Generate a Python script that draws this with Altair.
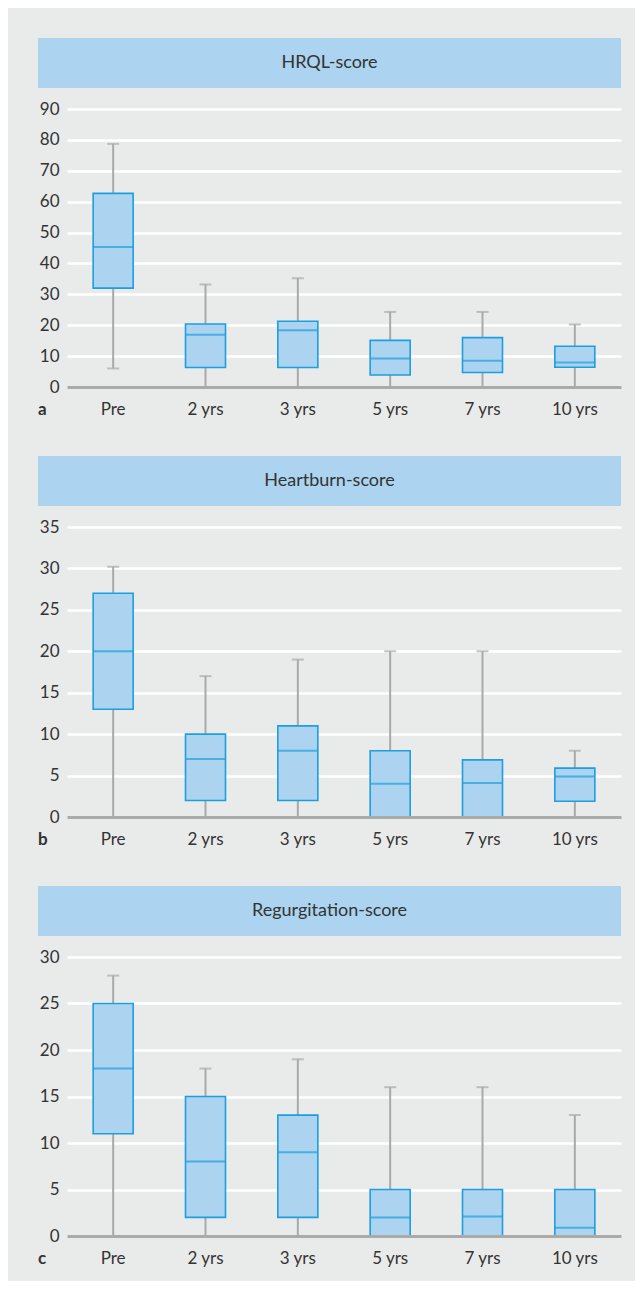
import altair as alt
import pandas as pd

categories = ["Pre", "2 yrs", "3 yrs", "5 yrs", "7 yrs", "10 yrs"]

titles = ["HRQL-score", "Heartburn-score", "Regurgitation-score"]
letters = ["a", "b", "c"]
y_max = [90, 35, 30]
y_step = [10, 5, 5]

# HRQL-score
hrql_lower = [6, 0, 0, 0, 0, 0]
hrql_q1 = [32, 6.3, 6.3, 3.9, 4.7, 6.4]
hrql_median = [45.3, 16.9, 18.4, 9.2, 8.5, 7.9]
hrql_q3 = [62.7, 20.4, 21.3, 15.1, 16, 13.2]
hrql_upper = [78.7, 33.2, 35.2, 24.3, 24.3, 20.2]

# Heartburn-score
hb_lower = [0, 0, 0, 0, 0, 0]
hb_q1 = [13, 2, 2, 0, 0, 1.9]
hb_median = [20, 7, 8, 4, 4.1, 4.9]
hb_q3 = [27, 10, 11, 8, 6.9, 5.9]
hb_upper = [30.2, 17, 19, 20, 20, 8]

# Regurgitation-score
rg_lower = [0, 0, 0, 0, 0, 0]
rg_q1 = [11, 2, 2, 0, 0, 0]
rg_median = [18, 8, 9, 2, 2.1, 0.9]
rg_q3 = [25, 15, 13, 5, 5, 5]
rg_upper = [28, 18, 19, 16, 16, 13]

FONT = "Lato"
TEXT = "#333333"
FILL = "#acd3ef"
STROKE = "#1c9fe0"
WHISK = "#a9a9a9"
W = 554


def panel(title, letter, lower, q1, med, q3, upper, ymax, ystep, h):
    df = pd.DataFrame({"cat": categories, "lower": lower, "q1": q1,
                       "median": med, "q3": q3, "upper": upper})
    x = alt.X("cat:N", sort=categories,
              scale=alt.Scale(paddingInner=0, paddingOuter=0),
              axis=alt.Axis(title=None, labelAngle=0, domain=True,
                            domainColor="#aaaaaa", domainWidth=3, ticks=False,
                            labelPadding=14, labelFontSize=17, labelFont=FONT,
                            labelColor=TEXT, grid=False, zindex=1))
    yscale = alt.Scale(domain=[0, ymax], nice=False)
    yaxis = alt.Axis(title=None, values=list(range(0, ymax + 1, ystep)),
                     domain=False, ticks=False, labelPadding=8,
                     labelOverlap=False,
                     grid=True, gridColor="white", gridWidth=2.5,
                     labelFontSize=17, labelFont=FONT, labelColor=TEXT)

    def Y(field):
        return alt.Y(field, scale=yscale, axis=yaxis)

    base = alt.Chart(df).encode(x=x)
    whisk = base.mark_rule(color=WHISK, strokeWidth=2).encode(
        y=Y("lower:Q"), y2="upper:Q")
    box = base.mark_bar(size=40, color=FILL, stroke=STROKE,
                        strokeWidth=1.6).encode(y=Y("q1:Q"), y2="q3:Q")
    mline = base.mark_tick(size=40, thickness=2, color=STROKE).encode(y=Y("median:Q"))
    cap_hi = base.mark_tick(size=12, thickness=2, color=WHISK).encode(y=Y("upper:Q"))
    cap_lo = base.mark_tick(size=12, thickness=2, color=WHISK).encode(y=Y("lower:Q"))

    hdf = pd.DataFrame({"title": [title], "letter": [letter]})
    hbase = alt.Chart(hdf)
    bar = hbase.mark_rect(color=FILL).encode(
        x=alt.value(-29), x2=alt.value(W), y=alt.value(-71), y2=alt.value(-21))
    ttl = hbase.mark_text(font=FONT, fontSize=18, color=TEXT,
                          baseline="middle", align="center").encode(
        x=alt.value((W - 29) / 2), y=alt.value(-46), text="title:N")
    let = hbase.mark_text(font=FONT, fontSize=17, fontWeight="bold", color=TEXT,
                          align="left", baseline="alphabetic").encode(
        x=alt.value(-29), y=alt.value(h + 28), text="letter:N")

    return alt.layer(whisk, box, mline, cap_lo, cap_hi, bar, ttl, let).properties(
        width=W, height=h)


pa = panel(titles[0], letters[0], hrql_lower, hrql_q1, hrql_median, hrql_q3,
           hrql_upper, y_max[0], y_step[0], 278)
pb = panel(titles[1], letters[1], hb_lower, hb_q1, hb_median, hb_q3,
           hb_upper, y_max[1], y_step[1], 290)
pc = panel(titles[2], letters[2], rg_lower, rg_q1, rg_median, rg_q3,
           rg_upper, y_max[2], y_step[2], 279)

chart = alt.vconcat(pa, pb, pc, spacing=140, bounds="flush").properties(
    background="#e9ebea",
    padding={"left": 30, "top": 30, "right": 14, "bottom": 14},
).configure_view(stroke=None)

chart.save("out.html", embed_options={"renderer": "svg", "actions": False})
